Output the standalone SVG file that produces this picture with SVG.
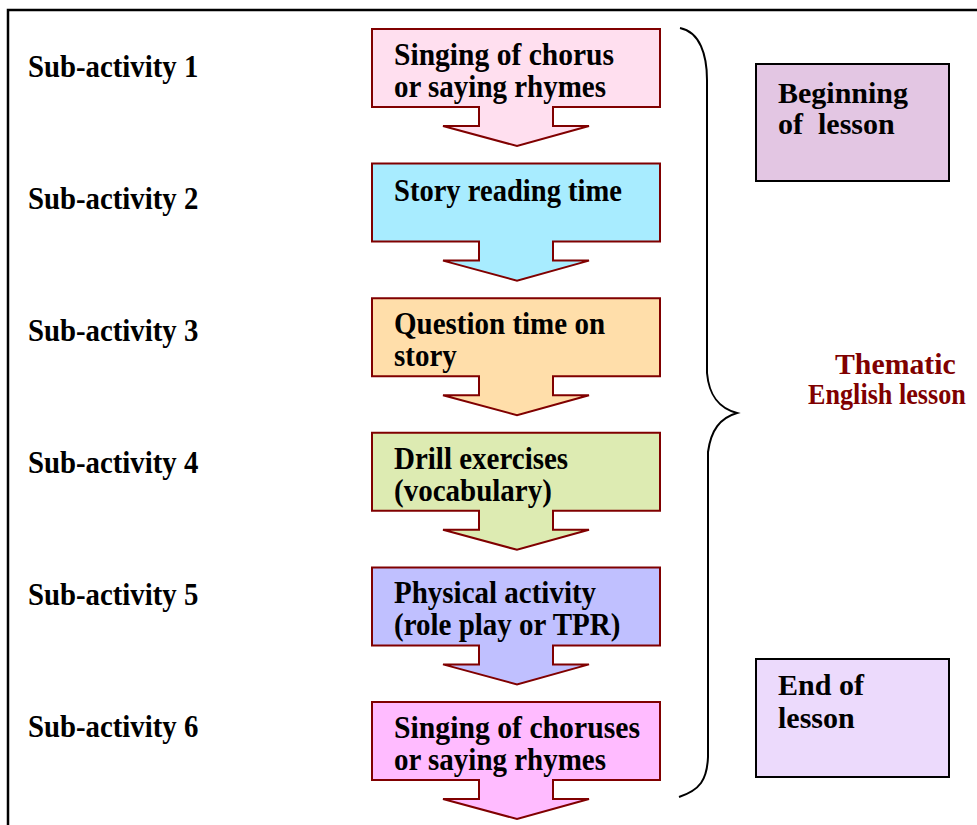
<svg xmlns="http://www.w3.org/2000/svg" width="977" height="825" viewBox="0 0 977 825">
<style>
.t{font-family:"Liberation Serif","Times New Roman",serif;font-weight:bold;fill:#000}
.lbl{font-size:28.8px}
.bx{font-size:29px}
.cl{stroke:#800000;stroke-width:2;stroke-linejoin:miter}
.side{stroke:#000;stroke-width:2}
.side-t{font-size:30px}
.them{font-family:"Liberation Serif","Times New Roman",serif;font-weight:bold;fill:#800000;font-size:29.5px}
</style>
<rect x="8" y="10" width="990" height="840" fill="#fff" stroke="#000" stroke-width="2.5"/>

<g id="labels">
<text class="t lbl" transform="translate(28,77) scale(1,1.06)">Sub-activity 1</text>
<text class="t lbl" transform="translate(28,209) scale(1,1.06)">Sub-activity 2</text>
<text class="t lbl" transform="translate(28,341) scale(1,1.06)">Sub-activity 3</text>
<text class="t lbl" transform="translate(28,473) scale(1,1.06)">Sub-activity 4</text>
<text class="t lbl" transform="translate(28,605) scale(1,1.06)">Sub-activity 5</text>
<text class="t lbl" transform="translate(28,737) scale(1,1.06)">Sub-activity 6</text>
</g>

<g id="step1">
<path class="cl" fill="#FFDFEF" d="M372,29 H660 V107 H553 V126 H589 L517,146 L443,126 H479 V107 H372 Z"/>
<text class="t bx" transform="translate(394,65) scale(1,1.06)" textLength="220" lengthAdjust="spacingAndGlyphs">Singing of chorus</text>
<text class="t bx" transform="translate(394,97) scale(1,1.06)" textLength="212" lengthAdjust="spacingAndGlyphs">or saying rhymes</text>
</g>

<g id="step2">
<path class="cl" fill="#A8ECFF" d="M372,163.6 H660 V241.6 H553 V260.6 H589 L517,280.6 L443,260.6 H479 V241.6 H372 Z"/>
<text class="t bx" transform="translate(394,201) scale(1,1.06)" textLength="228" lengthAdjust="spacingAndGlyphs">Story reading time</text>
</g>

<g id="step3">
<path class="cl" fill="#FFDEAA" d="M372,298.2 H660 V376.2 H553 V395.2 H589 L517,415.2 L443,395.2 H479 V376.2 H372 Z"/>
<text class="t bx" transform="translate(394,334) scale(1,1.06)">Question time on</text>
<text class="t bx" transform="translate(394,366) scale(1,1.06)">story</text>
</g>

<g id="step4">
<path class="cl" fill="#DDEBB2" d="M372,432.8 H660 V510.8 H553 V529.8 H589 L517,549.8 L443,529.8 H479 V510.8 H372 Z"/>
<text class="t bx" transform="translate(394,469) scale(1,1.06)">Drill exercises</text>
<text class="t bx" transform="translate(394,501) scale(1,1.06)">(vocabulary)</text>
</g>

<g id="step5">
<path class="cl" fill="#C0C0FF" d="M372,567.4 H660 V645.4 H553 V664.4 H589 L517,684.4 L443,664.4 H479 V645.4 H372 Z"/>
<text class="t bx" transform="translate(394,603) scale(1,1.06)">Physical activity</text>
<text class="t bx" transform="translate(394,635) scale(1,1.06)">(role play or TPR)</text>
</g>

<g id="step6">
<path class="cl" fill="#FFBBFF" d="M372,702 H660 V780 H553 V799 H589 L517,819 L443,799 H479 V780 H372 Z"/>
<text class="t bx" transform="translate(394,738) scale(1,1.06)" textLength="246" lengthAdjust="spacingAndGlyphs">Singing of choruses</text>
<text class="t bx" transform="translate(394,770) scale(1,1.06)" textLength="212" lengthAdjust="spacingAndGlyphs">or saying rhymes</text>
</g>

<g id="brace">
<path d="M680,28 C700,32 707,55 707,80 L707,373 C709,395 718,408 737,413 C720,418 711,430 708,452 L708,757 C707,780 700,790 679,797" fill="none" stroke="#000" stroke-width="2"/>
</g>

<g id="beginning">
<rect class="side" x="756" y="64" width="193" height="117" fill="#E3C6E3"/>
<text class="t side-t" x="778" y="103">Beginning</text>
<text class="t side-t" x="778" y="134" xml:space="preserve">of  lesson</text>
</g>

<g id="end">
<rect class="side" x="756" y="659" width="193" height="118" fill="#ECDAFC"/>
<text class="t side-t" x="778" y="695">End of</text>
<text class="t side-t" x="778" y="728">lesson</text>
</g>

<g id="thematic">
<text class="them" transform="translate(835,374) scale(1.01,1)">Thematic</text>
<text class="them" transform="translate(808,404) scale(0.888,1)">English lesson</text>
</g>
</svg>
